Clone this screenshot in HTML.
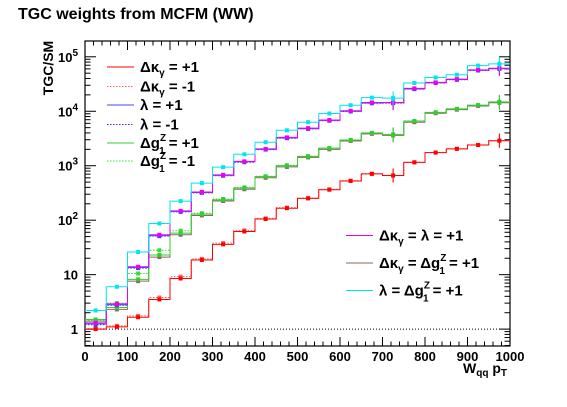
<!DOCTYPE html>
<html><head><meta charset="utf-8"><style>
html,body{margin:0;padding:0;background:#fff;}
svg{display:block;font-family:"Liberation Sans",Arial,sans-serif;}
</style></head><body>
<svg id="chart" width="567" height="407" viewBox="0 0 567 407">
<text x="18" y="19" font-size="16" font-weight="bold">TGC weights from MCFM (WW)</text>
<g id="axes"></g>
<g id="series"></g>
<g id="legend"></g>
</svg>
<script>
const binEdges = [0,50,100,150,200,250,300,350,400,450,500,550,600,650,700,750,800,850,900,950,1000];
const xTicks = [0,100,200,300,400,500,600,700,800,900,1000];
const yTickExps = [0,1,2,3,4,5];
const cyanVals = [2.2,6,26,87,224,480,940,1620,2700,4470,6300,9100,12900,17800,17400,33000,41700,46800,69000,74000];
const magentaVals = [1.3,2.9,14,54,148,330,680,1200,2040,3310,4900,6900,10200,14500,14500,26300,33900,38900,57500,61700];
const blueVals = [1.25,2.8,13.5,52,145,322,665,1180,2000,3250,4800,6800,10000,14200,14300,25800,33300,38200,56500,60800];
const blueDotVals = [1.2,2.75,13.2,51,142,318,655,1160,1980,3200,4750,6700,9900,14000,14100,25500,33000,37800,56000,60000];
const greenVals = [1.5,2.5,8.2,23,58,129,236,390,630,1000,1480,2090,2950,3980,3720,6600,9500,11000,12900,14800];
const greenDotVals = [1.45,3.0,10.5,28,64,134,245,400,640,1020,1500,2110,2980,4020,3760,6650,9600,11100,13000,14900];
const brownVals = [1.4,2.3,7.6,21,54,122,225,370,600,950,1420,2000,2850,3850,3600,6300,9200,10700,12500,14300];
const redVals = [1.0,1.1,1.65,3.5,8.5,18.6,36,62,105,166,251,363,525,708,660,1150,1740,2040,2400,2880];
const redDotVals = [1.02,1.15,1.75,3.8,9.2,19.5,38,65,108,170,256,368,532,715,665,1160,1750,2050,2410,2890];

const X0=85,X1=510,Y0=346,Y1=41;
const LOGMIN=-0.31,LOGMAX=5.29;
const xs=v=>X0+(v-0)/(1000-0)*(X1-X0);
const ys=v=>Y0-(Math.log10(v)-LOGMIN)/(LOGMAX-LOGMIN)*(Y0-Y1);
const NS="http://www.w3.org/2000/svg";
function mk(tag,parent,attrs){const e=document.createElementNS(NS,tag);for(const k in attrs)e.setAttribute(k,attrs[k]);parent.appendChild(e);return e;}
const axes=document.getElementById('axes'),ser=document.getElementById('series'),leg=document.getElementById('legend');

// frame
const fr=mk('rect',axes,{x:X0,y:Y1,width:X1-X0,height:Y0-Y1,fill:'none',stroke:'#000','stroke-width':1.2});


// x ticks
for(let v=0;v<=1000;v+=20){
  const maj=v%100===0,L=maj?9:4.5;
  mk('line',axes,{x1:xs(v),x2:xs(v),y1:Y0,y2:Y0-L,stroke:'#000','stroke-width':1});
  mk('line',axes,{x1:xs(v),x2:xs(v),y1:Y1,y2:Y1+L,stroke:'#000','stroke-width':1});
}
xTicks.forEach(v=>{
  const t=mk('text',axes,{x:xs(v),y:361,'font-size':13,'font-weight':'bold','text-anchor':'middle'});
  t.textContent=String(v);
  
  
});
// y ticks
for(let e=-1;e<=5;e++){
  for(let m=1;m<10;m++){
    const v=m*Math.pow(10,e);const lv=Math.log10(v);
    if(lv<LOGMIN||lv>LOGMAX)continue;
    const L=m===1?11:5.5;
    mk('line',axes,{x1:X0,x2:X0+L,y1:ys(v),y2:ys(v),stroke:'#000','stroke-width':1});
    mk('line',axes,{x1:X1,x2:X1-L,y1:ys(v),y2:ys(v),stroke:'#000','stroke-width':1});
  }
}
yTickExps.forEach(e=>{
  const y=ys(Math.pow(10,e));
  const t=mk('text',axes,{x:78,y:y+5,'font-size':13,'font-weight':'bold','text-anchor':'end'});
  
  
  if(e===0)t.textContent='1';else if(e===1)t.textContent='10';
  else{t.innerHTML='10<tspan dy="-6" font-size="10">'+e+'</tspan>';}
});
const yl=mk('text',axes,{x:0,y:0,'font-size':14,'font-weight':'bold','text-anchor':'middle',transform:'translate(53,68) rotate(-90)'});
yl.textContent='TGC/SM';


const xl=mk('text',axes,{x:463,y:373,'font-size':14,'font-weight':'bold'});
xl.innerHTML='W<tspan font-size="10" dy="3">qq</tspan><tspan dy="-3"> p</tspan><tspan font-size="10" dy="3">T</tspan>';


// reference line at 1
const rl=mk('line',axes,{x1:X0,x2:X1,y1:ys(1),y2:ys(1),stroke:'#000','stroke-width':1,'stroke-dasharray':'1,2'});



function drawHist(vals,color,dashed,name,markers){
  const g=mk('g',ser,{});
  
  
  let d='';
  vals.forEach((v,i)=>{const x0=xs(binEdges[i]),x1=xs(binEdges[i+1]),y=ys(v);
    d+=(i===0?'M'+x0+','+y:'L'+x0+','+y)+'L'+x1+','+y;});
  mk('path',g,{d:d,fill:'none',stroke:color,'stroke-width':1,'stroke-dasharray':dashed?'1.5,1.5':'none'});
  if(markers){vals.forEach((v,i)=>{const xc=xs((binEdges[i]+binEdges[i+1])/2),y=ys(v);
    const m=mk('rect',g,{x:xc-2,y:y-2,width:4,height:4,fill:color});
    
    
    if(i===14||i===19){mk('line',g,{x1:xc,x2:xc,y1:y-7,y2:y+7,stroke:color,'stroke-width':1});}
  });}
}
drawHist(redDotVals,'#ff6060',true,'series-dk-minus1',true);
drawHist(redVals,'#ff0000',false,'series-dk-plus1',true);
drawHist(brownVals,'#8a6a5a',false,'series-dk-dg1-plus1',true);
drawHist(greenDotVals,'#33dd33',true,'series-dg1-minus1',true);
drawHist(greenVals,'#33cc33',false,'series-dg1-plus1',true);
drawHist(blueDotVals,'#3333ff',true,'series-lambda-minus1',true);
drawHist(blueVals,'#4444ff',false,'series-lambda-plus1',true);
drawHist(magentaVals,'#ee00ee',false,'series-dk-lambda-plus1',true);
drawHist(cyanVals,'#00e5ee',false,'series-lambda-dg1-plus1',true);

// legends
const DK='&#916;&#954;<tspan font-size="10" dy="4">&#947;</tspan><tspan dy="-4">';
const DG='&#916;g<tspan font-size="10" dy="-7">Z</tspan><tspan font-size="10" dx="-7" dy="13">1</tspan><tspan dy="-6">';
const legItems=[
 [67,'#ff0000',false,DK+' = +1</tspan>','legend-dk-plus1'],
 [86.5,'#ff6060',true,DK+' = -1</tspan>','legend-dk-minus1'],
 [105,'#4444ff',false,'&#955; = +1','legend-lambda-plus1'],
 [124.5,'#3333ff',true,'&#955; = -1','legend-lambda-minus1'],
 [143,'#33cc33',false,DG+' = +1</tspan>','legend-dg1-plus1'],
 [161,'#33dd33',true,DG+' = -1</tspan>','legend-dg1-minus1'],
 [235.5,'#ee00ee',false,DK+' =  &#955; = +1</tspan>','legend-dk-lambda-plus1',346],
 [263,'#8a6a5a',false,DK+' =  '+DG+' = +1</tspan></tspan>','legend-dk-dg1-plus1',346],
 [290.5,'#00e5ee',false,'&#955; =  '+DG+' = +1</tspan>','legend-lambda-dg1-plus1',346]
];
legItems.forEach(it=>{
  const lx=it[5]||107;
  const g=mk('g',leg,{});
  
  
  mk('line',g,{x1:lx,x2:lx+27,y1:it[0],y2:it[0],stroke:it[1],'stroke-width':1,'stroke-dasharray':it[2]?'1.5,1.5':'none'});
  const t=mk('text',g,{x:lx+33,y:it[0]+5,'font-size':15,'font-weight':'bold'});
  t.innerHTML=it[3];
});
</script>
</body></html>
